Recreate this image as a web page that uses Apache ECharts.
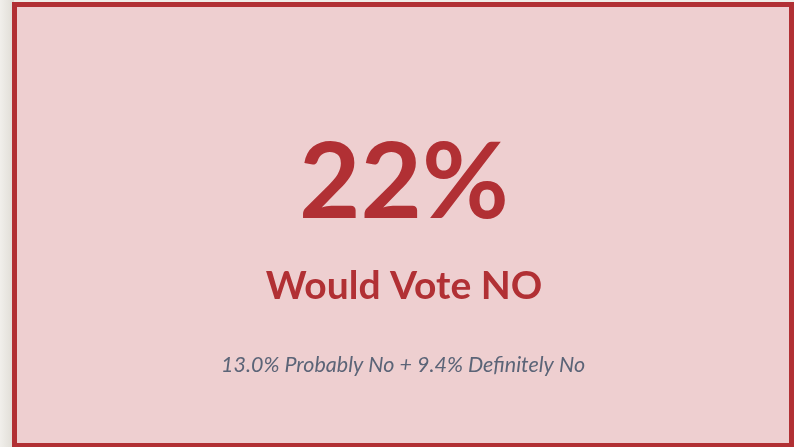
<!DOCTYPE html>
<html>
<head>
<meta charset="utf-8">
<script src="https://cdn.jsdelivr.net/npm/echarts@6/dist/echarts.min.js"></script>
<style>
  html, body { margin: 0; padding: 0; background: #efede8; }
  #chart { width: 794px; height: 447px; }
</style>
</head>
<body>
<div id="chart"></div>
<script>
// Share of respondents who would vote NO, broken into its two parts
const partLabels = ['Probably No', 'Definitely No'];
const partValues = [13.0, 9.4];
const headlineLabel = 'Would Vote NO';

const total = partValues.reduce((a, b) => a + b, 0);
const headlineText = Math.round(total) + '%';
const breakdownText = partValues
  .map((v, i) => v.toFixed(1) + '% ' + partLabels[i])
  .join(' + ');

const RED = '#b13034';
const FONT = 'Lato, "Noto Sans", sans-serif';
const cx = 404;

const chart = echarts.init(document.getElementById('chart'), null, { renderer: 'canvas' });
chart.setOption({
  backgroundColor: '#efede8',
  animation: false,
  graphic: [
    // soft shadow strip to the left of the card
    {
      type: 'rect',
      shape: { x: 0, y: 0, width: 14, height: 447 },
      style: {
        fill: new echarts.graphic.LinearGradient(0, 0, 1, 0, [
          { offset: 0, color: '#f1efeb' },
          { offset: 1, color: '#dfdcd5' }
        ])
      },
      silent: true
    },
    // card
    {
      type: 'rect',
      shape: { x: 14.5, y: 4.5, width: 777, height: 441 },
      style: { fill: '#eecfd0', stroke: RED, lineWidth: 5 },
      silent: true
    },
    {
      type: 'text',
      x: cx, y: 184,
      style: {
        text: headlineText,
        fill: RED,
        font: 'bold 106px ' + FONT,
        align: 'center',
        verticalAlign: 'middle'
      }
    },
    {
      type: 'text',
      x: cx, y: 286,
      style: {
        text: headlineLabel,
        fill: RED,
        font: 'bold 39px ' + FONT,
        align: 'center',
        verticalAlign: 'middle'
      }
    },
    {
      type: 'text',
      x: 403, y: 365,
      style: {
        text: breakdownText,
        fill: '#5b6477',
        font: 'italic 21.5px ' + FONT,
        align: 'center',
        verticalAlign: 'middle'
      }
    }
  ]
});
</script>
</body>
</html>
